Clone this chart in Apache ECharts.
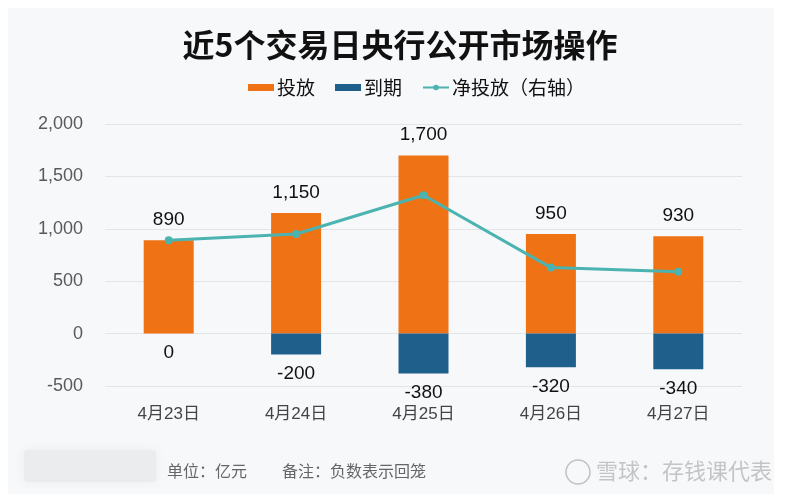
<!DOCTYPE html>
<html>
<head>
<meta charset="utf-8">
<script src="https://cdn.jsdelivr.net/npm/echarts@6/dist/echarts.min.js"></script>
<style>
  html, body { margin: 0; padding: 0; background: #fff; }
  #chart { width: 800px; height: 498px; }
</style>
</head>
<body>
<div id="chart"></div>
<script>
const days = ['4月23日', '4月24日', '4月25日', '4月26日', '4月27日'];
const injection = [890, 1150, 1700, 950, 930];
const maturity = [0, -200, -380, -320, -340];
const netInjection = [890, 950, 1320, 630, 590];
const yTicks = [-500, 0, 500, 1000, 1500, 2000];

const chart = echarts.init(document.getElementById('chart'));
const font = '"Liberation Sans", "Noto Sans CJK SC", sans-serif';
const cjk = '"Noto Sans CJK SC", sans-serif';

chart.setOption({
  backgroundColor: '#ffffff',
  textStyle: { fontFamily: font },
  title: {
    text: '近5个交易日央行公开市场操作',
    left: 'center',
    top: 24,
    textStyle: { fontSize: 32, fontWeight: 'bold', color: '#111', fontFamily: cjk },
  },
  legend: {
    top: 73,
    left: 243,
    itemGap: 20,
    itemWidth: 26,
    itemHeight: 7,
    textStyle: { fontSize: 19, color: '#111', fontFamily: cjk, padding: [0, 0, 0, -2] },
    data: [
      { name: '投放', icon: 'rect' },
      { name: '到期', icon: 'rect' },
      { name: '净投放（右轴）' },
    ],
  },
  graphic: [
    {
      type: 'rect',
      z: -10,
      shape: { x: 8, y: 8, width: 766, height: 486 },
      style: { fill: '#f7f8fa' },
    },
    {
      type: 'rect',
      z: -5,
      shape: { x: 24, y: 450, width: 132, height: 32, r: 4 },
      style: { fill: '#ebecee', shadowBlur: 10, shadowColor: '#ebecee' },
    },
    {
      type: 'text',
      left: 167,
      top: 463,
      style: { text: '单位：亿元', fontSize: 16, fill: '#666', fontFamily: cjk },
    },
    {
      type: 'text',
      left: 282,
      top: 463,
      style: { text: '备注：负数表示回笼', fontSize: 16, fill: '#666', fontFamily: cjk },
    },
    {
      type: 'circle',
      shape: { cx: 578, cy: 472, r: 12 },
      style: { fill: 'none', stroke: '#c0c0c0', lineWidth: 1.5 },
    },
    {
      type: 'text',
      left: 596,
      top: 460,
      style: { text: '雪球：存钱课代表', fontSize: 22, fill: '#c4c4c4', fontFamily: cjk },
    },
  ],
  grid: { left: 105, right: 58, top: 124, bottom: 112 },
  xAxis: {
    type: 'category',
    data: days,
    axisLine: { show: false },
    axisTick: { show: false },
    axisLabel: { color: '#444', fontSize: 17, margin: 20, fontFamily: font },
  },
  yAxis: [
    {
      type: 'value',
      min: yTicks[0],
      max: yTicks[yTicks.length - 1],
      interval: 500,
      axisLine: { show: false },
      axisTick: { show: false },
      axisLabel: {
        color: '#595959',
        fontSize: 18,
        margin: 22,
        fontFamily: font,
        formatter: (v) => v.toLocaleString('en-US'),
      },
      splitLine: { lineStyle: { color: '#e2e4e8', width: 1 } },
    },
    {
      type: 'value',
      min: yTicks[0],
      max: yTicks[yTicks.length - 1],
      interval: 500,
      show: false,
      splitLine: { show: false },
    },
  ],
  series: [
    {
      name: '投放',
      type: 'bar',
      barWidth: 50,
      barGap: '-100%',
      data: injection,
      itemStyle: { color: '#ef7215' },
      label: {
        show: true,
        position: 'top',
        distance: 11,
        color: '#111',
        fontSize: 19,
        fontFamily: font,
        formatter: (p) => p.value.toLocaleString('en-US'),
      },
    },
    {
      name: '到期',
      type: 'bar',
      barWidth: 50,
      barGap: '-100%',
      data: maturity,
      itemStyle: { color: '#1f5f8b' },
      label: {
        show: true,
        position: 'bottom',
        distance: 10,
        color: '#111',
        fontSize: 19,
        fontFamily: font,
      },
    },
    {
      name: '净投放（右轴）',
      type: 'line',
      yAxisIndex: 1,
      data: netInjection,
      symbol: 'circle',
      symbolSize: 8,
      lineStyle: { color: '#4bb3b0', width: 3 },
      itemStyle: { color: '#4bb3b0' },
      z: 5,
    },
  ],
});
</script>
</body>
</html>
